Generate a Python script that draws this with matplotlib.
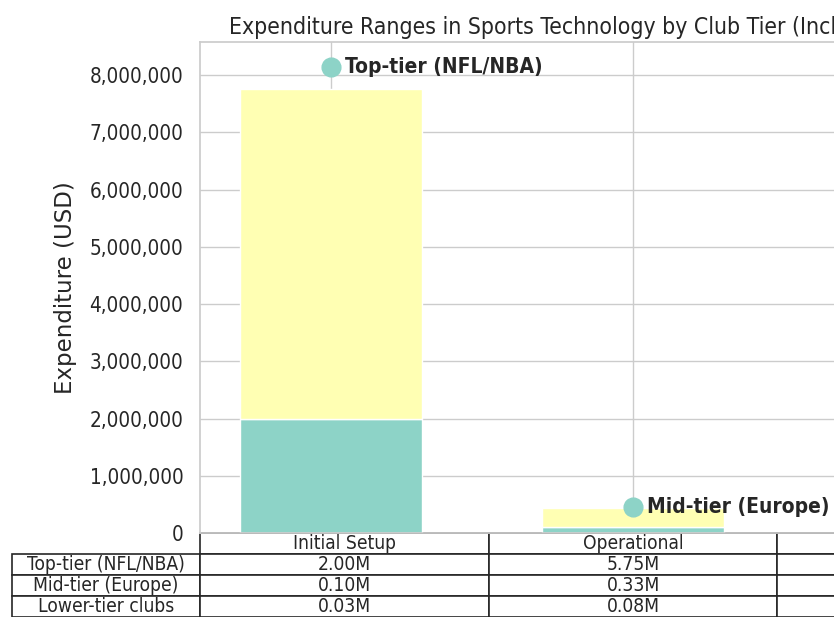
import matplotlib
matplotlib.use('Agg')
import matplotlib.pyplot as plt
from matplotlib.table import Table
from matplotlib.ticker import FuncFormatter

tiers = ['Top-tier (NFL/NBA)', 'Mid-tier (Europe)', 'Lower-tier clubs']
columns = ['Initial Setup', 'Operational', 'Total']
initial_setup = [2.00e6, 0.10e6, 0.03e6]
operational = [5.75e6, 0.33e6, 0.08e6]

plt.rcParams.update({
    'font.family': 'DejaVu Sans',
    'font.stretch': 'condensed',
    'axes.edgecolor': '#cccccc',
    'axes.linewidth': 1.25,
    'grid.color': '#cccccc',
    'grid.linewidth': 1.0,
    'text.color': '#262626',
    'axes.labelcolor': '#262626',
    'xtick.color': '#262626',
    'ytick.color': '#262626',
})

fig = plt.figure(figsize=(8.34, 6.17), dpi=100)
# axes runs past the right edge of the picture, like the reference
ax = fig.add_axes([200/834, 84/617, 866/834, 491/617])
ax.set_axisbelow(True)
ax.grid(True)

x = list(range(len(tiers)))
totals = [a + b for a, b in zip(initial_setup, operational)]
ax.bar(x, initial_setup, 0.6, color='#8dd3c7', edgecolor='white', linewidth=1)
ax.bar(x, operational, 0.6, bottom=initial_setup, color='#ffffb3', edgecolor='white', linewidth=1)

for i, (t, name) in enumerate(zip(totals, tiers)):
    ax.plot(i, t * 1.05, 'o', color='#8dd3c7', markersize=13.5, zorder=3)
    ax.annotate(name, (i, t * 1.05), xytext=(10, 0), textcoords='offset points',
                va='center', ha='left', fontsize=15, fontweight='bold')

ax.set_xlim(-0.434, 2.434)
ax.set_ylim(0, 8.58e6)
ax.set_xticks(x)
ax.tick_params(axis='x', labelbottom=False, length=0)
ax.tick_params(axis='y', length=0, pad=12, labelsize=14.85)
ax.yaxis.set_major_formatter(FuncFormatter(lambda v, p: f'{v:,.0f}'))
ax.set_ylabel('Expenditure (USD)', fontsize=16.5, fontstretch='normal', labelpad=9)
ax.set_title('Expenditure Ranges in Sports Technology by Club Tier (Including Maintenance)',
             fontsize=16.45, x=0.503)

# table under the axes
tbl = Table(ax, loc='bottom')
h = 21 / 491
for j, col in enumerate(columns):
    tbl.add_cell(0, j, width=1/3, height=h, text=col, loc='center')
for r, name in enumerate(tiers):
    vals = [initial_setup[r], operational[r], totals[r]]
    tbl.add_cell(r + 1, -1, width=188/866, height=h, text=name, loc='center')
    for j, v in enumerate(vals):
        tbl.add_cell(r + 1, j, width=1/3, height=h, text=f'{v/1e6:.2f}M', loc='center')
tbl.auto_set_font_size(False)
tbl.set_fontsize(13.8)
for cell in tbl.get_celld().values():
    cell.set_edgecolor('#262626')
    cell.set_linewidth(1.2)
ax.add_table(tbl)

fig.savefig('out.png', dpi=100)
